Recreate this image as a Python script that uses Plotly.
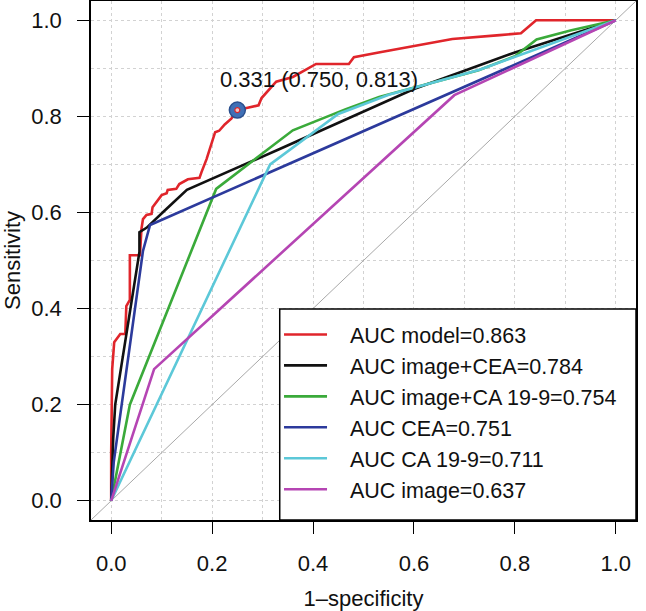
import plotly.graph_objects as go

# ---- data ----
x_model = [0, 0, 0.002, 0.006, 0.018, 0.028, 0.030, 0.037, 0.037, 0.057, 0.060, 0.063, 0.070, 0.080,
           0.082, 0.092, 0.100, 0.110, 0.112, 0.129, 0.135, 0.152, 0.175, 0.179, 0.189, 0.206, 0.214,
           0.225, 0.238, 0.250, 0.268, 0.292, 0.298, 0.327, 0.360, 0.406, 0.471, 0.481, 0.530, 0.610,
           0.676, 0.770, 0.812, 0.842, 1.0]
y_model = [0, 0.10, 0.274, 0.330, 0.347, 0.347, 0.405, 0.418, 0.511, 0.511, 0.566, 0.586, 0.595, 0.597,
           0.611, 0.626, 0.636, 0.640, 0.647, 0.649, 0.659, 0.669, 0.672, 0.684, 0.711, 0.767, 0.770,
           0.783, 0.795, 0.813, 0.817, 0.823, 0.838, 0.872, 0.882, 0.909, 0.909, 0.923, 0.933, 0.948,
           0.961, 0.969, 0.973, 1.0, 1.0]

x_img_cea = [0, 0.004, 0.008, 0.056, 0.056, 0.070, 0.103, 0.150, 0.334, 0.450, 0.600, 0.700, 0.800, 1.0]
y_img_cea = [0, 0.13, 0.20, 0.518, 0.559, 0.568, 0.601, 0.647, 0.732, 0.786, 0.857, 0.895, 0.933, 1.0]

x_img_ca = [0, 0.037, 0.208, 0.360, 0.465, 0.531, 0.728, 0.800, 0.843, 0.912, 1.0]
y_img_ca = [0, 0.20, 0.649, 0.771, 0.815, 0.840, 0.896, 0.925, 0.960, 0.979, 1.0]

x_cea = [0, 0.005, 0.063, 0.077, 1.0]
y_cea = [0, 0.08, 0.52, 0.574, 1.0]

x_ca = [0, 0.315, 0.450, 0.550, 0.730, 1.0]
y_ca = [0, 0.700, 0.805, 0.845, 0.897, 1.0]

x_img = [0, 0.085, 0.680, 1.0]
y_img = [0, 0.274, 0.844, 1.0]

series_names = ["AUC model=0.863", "AUC image+CEA=0.784", "AUC image+CA 19-9=0.754",
                "AUC CEA=0.751", "AUC CA 19-9=0.711", "AUC image=0.637"]
series_colors = ["#e0252b", "#111111", "#3aaa3a", "#2c3a9c", "#5cc8d8", "#b545b3"]

thr_x = [0.250]
thr_y = [0.813]
thr_label = "0.331 (0.750, 0.813)"

axis_range = [-0.04, 1.04]

FONT = "Liberation Sans, Arial, Helvetica, sans-serif"
FS = 22
LFS = 21.5
PAD = "\u00a0\u00a0\u00a0"  # visual gap between legend key and label

fig = go.Figure()

# reference diagonal across the whole plotting region
fig.add_trace(go.Scatter(x=axis_range, y=axis_range, mode="lines",
                         line=dict(color="#a8a8a8", width=1), showlegend=False, hoverinfo="skip"))

xs = [x_model, x_img_cea, x_img_ca, x_cea, x_ca, x_img]
ys = [y_model, y_img_cea, y_img_ca, y_cea, y_ca, y_img]
for xv, yv, nm, col in zip(xs, ys, series_names, series_colors):
    fig.add_trace(go.Scatter(x=xv, y=yv, mode="lines", name=PAD + nm,
                             line=dict(color=col, width=2.6)))

# threshold point
fig.add_trace(go.Scatter(x=thr_x, y=thr_y, mode="markers", showlegend=False,
                         marker=dict(size=16, color="#3f70b6", line=dict(color="#2a4f8e", width=1.5))))
fig.add_trace(go.Scatter(x=thr_x, y=thr_y, mode="markers", showlegend=False,
                         marker=dict(size=5, color="#f2c4c4", line=dict(color="#d8262b", width=1.2))))

fig.add_annotation(x=thr_x[0] - 0.039, y=thr_y[0] + 0.063, text=thr_label, showarrow=False,
                   xanchor="left", yanchor="middle", font=dict(family=FONT, size=FS, color="#111"))

# legend box (bottom right, R style)
fig.add_shape(type="rect", xref="x", yref="y", x0=0.334, x1=axis_range[1], y0=axis_range[0], y1=0.399,
              fillcolor="white", line=dict(color="black", width=1.5), layer="above")

grid = dict(showgrid=True, gridcolor="#d2d2d2", griddash="dot", gridwidth=1)
axis_common = dict(range=axis_range, tickmode="linear", tick0=0, dtick=0.2, tickformat=".1f",
                   ticks="outside", ticklen=12, tickwidth=1.3, tickcolor="black", automargin=False,
                   showline=True, linecolor="black", linewidth=1.5, mirror=True, zeroline=False,
                   tickfont=dict(family=FONT, size=FS, color="#111"),
                   minor=dict(tick0=0, dtick=0.1, ticks="", **grid), **grid)

fig.update_xaxes(**axis_common, ticklabelstandoff=11,
                 title=dict(text="1–specificity", standoff=17, font=dict(family=FONT, size=FS, color="#111")))
fig.update_yaxes(**axis_common, ticklabelstandoff=11,
                 title=dict(text="Sensitivity", standoff=8, font=dict(family=FONT, size=FS, color="#111")))

fig.update_layout(
    width=646, height=611,
    margin=dict(l=91, r=10, t=1, b=91),
    paper_bgcolor="white", plot_bgcolor="white",
    font=dict(family=FONT, size=FS, color="#111"),
    legend=dict(x=0.345, xanchor="left", y=0.397, yanchor="top",
                bgcolor="rgba(0,0,0,0)", borderwidth=0, itemwidth=43,
                font=dict(family=FONT, size=LFS, color="#111"), tracegroupgap=0),
)

fig.write_html("out.html", config={"displayModeBar": False},
               post_script="document.body.style.margin='0';document.body.style.overflow='hidden';")
